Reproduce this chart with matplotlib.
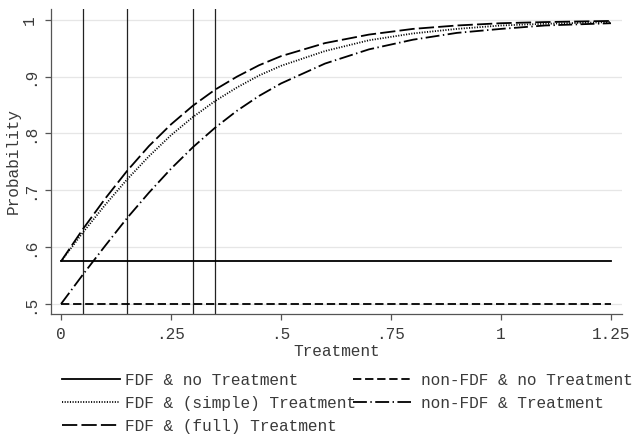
import matplotlib
matplotlib.use("Agg")
import matplotlib.pyplot as plt

# ---- data ----
x_curve = [0, 0.05, 0.10, 0.15, 0.20, 0.25, 0.30, 0.35, 0.40, 0.45, 0.50,
           0.60, 0.70, 0.80, 0.90, 1.00, 1.10, 1.25]
fdf_simple = [0.575, 0.626, 0.674, 0.719, 0.760, 0.797, 0.829, 0.857, 0.881, 0.902, 0.919,
              0.945, 0.964, 0.976, 0.984, 0.990, 0.993, 0.996]
fdf_full = [0.575, 0.632, 0.685, 0.734, 0.778, 0.816, 0.849, 0.877, 0.900, 0.920, 0.936,
            0.959, 0.974, 0.984, 0.990, 0.994, 0.996, 0.998]
nonfdf_treat = [0.500, 0.552, 0.602, 0.651, 0.696, 0.738, 0.776, 0.810, 0.840, 0.866, 0.888,
                0.923, 0.948, 0.965, 0.977, 0.984, 0.990, 0.994]
x_flat = [0, 1.25]
fdf_no = [0.575, 0.575]
nonfdf_no = [0.5, 0.5]
vlines_x = [0.05, 0.15, 0.30, 0.35]

xticks = [0, 0.25, 0.5, 0.75, 1, 1.25]
xticklabels = ["0", ".25", ".5", ".75", "1", "1.25"]
yticks = [0.5, 0.6, 0.7, 0.8, 0.9, 1.0]
yticklabels = [".5", ".6", ".7", ".8", ".9", "1"]

labels = ["FDF & no Treatment", "FDF & (simple) Treatment", "FDF & (full) Treatment",
          "non-FDF & no Treatment", "non-FDF & Treatment"]

plt.rcParams["font.family"] = ["Liberation Mono", "DejaVu Sans Mono"]
plt.rcParams["lines.scale_dashes"] = False
FS = 11.6
TXT = "#3a3a3a"
W, H = 640, 436
fig = plt.figure(figsize=(W / 100, H / 100), dpi=100)
ax = fig.add_axes([50.7 / W, (H - 314) / H, (622 - 50.7) / W, (314 - 9) / H])

ax.set_xlim(-0.0234, 1.275)
ax.set_ylim(0.4824, 1.019)

for v in yticks:
    ax.axhline(v, color="#e6e6e6", lw=0.9, zorder=0)
for v in vlines_x:
    ax.axvline(v, color="#222222", lw=0.9, zorder=1)

lw = 1.3
h1, = ax.plot(x_flat, fdf_no, color="black", lw=lw, ls="-")
h2, = ax.plot(x_curve, fdf_simple, color="black", lw=lw, ls=(0, (0.8, 1.1)))
h3, = ax.plot(x_curve, fdf_full, color="black", lw=lw, ls=(0, (11, 3)))
h4, = ax.plot(x_flat, nonfdf_no, color="black", lw=lw, ls=(0, (6, 2.7)))
h5, = ax.plot(x_curve, nonfdf_treat, color="black", lw=lw, ls=(0, (10, 2.5, 1, 2.5)))

for s in ["top", "right"]:
    ax.spines[s].set_visible(False)
for s in ["left", "bottom"]:
    ax.spines[s].set_color("#555555")
    ax.spines[s].set_linewidth(0.9)

ax.set_xticks(xticks)
ax.set_xticklabels(xticklabels, fontsize=FS)
ax.set_yticks(yticks)
ax.set_yticklabels(yticklabels, fontsize=FS, rotation=90, va="center")
ax.tick_params(axis="both", colors="#555555", length=4.5, width=0.9, labelcolor=TXT)
ax.tick_params(axis="x", pad=5)
ax.tick_params(axis="y", pad=5.5)

ax.set_xlabel("Treatment", fontsize=FS, color=TXT, labelpad=1)
ax.set_ylabel("Probability", fontsize=FS, color=TXT, labelpad=0.5)

leg1 = fig.legend([h1, h2, h3], labels[:3], loc="upper left",
                  bbox_to_anchor=(62 / W, (H - 373) / H), frameon=False,
                  fontsize=FS, handlelength=3.6, handletextpad=0.3,
                  labelspacing=0.5, borderpad=0, borderaxespad=0)
leg2 = fig.legend([h4, h5], labels[3:], loc="upper left",
                  bbox_to_anchor=(353 / W, (H - 373) / H), frameon=False,
                  fontsize=FS, handlelength=3.6, handletextpad=0.6,
                  labelspacing=0.5, borderpad=0, borderaxespad=0)
for leg in (leg1, leg2):
    for t in leg.get_texts():
        t.set_color(TXT)

fig.savefig("out.png", dpi=100)
